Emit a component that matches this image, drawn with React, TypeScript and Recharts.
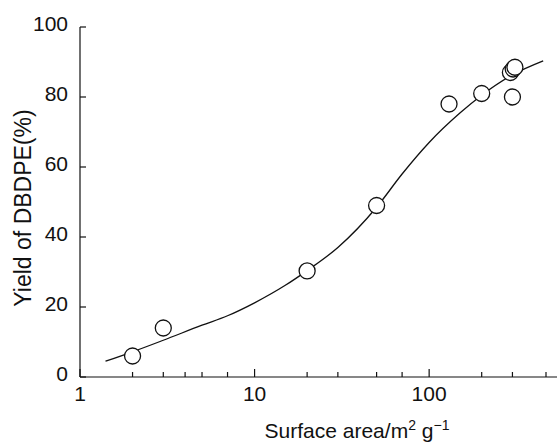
import React from 'react'
import { ComposedChart, Line, Scatter, XAxis, YAxis } from 'recharts'

// measured points (surface area, yield %)
const area = [2, 3, 20, 50, 130, 200, 300, 292, 303, 310]
const yieldPct = [6, 14, 30.3, 49, 78, 81, 80, 87, 88, 88.5]

// fitted curve
const curveArea = [1.4, 2, 3, 5, 7, 10, 15, 20, 30, 50, 70, 100, 150, 200, 300, 450]
const curveYield = [4.5, 7.2, 10.5, 14.8, 17.5, 21.2, 26.2, 30.4, 37, 48.5, 58, 67, 75.4, 80.5, 86.3, 90.3]

const xTicks = [1, 2, 3, 4, 5, 6, 7, 8, 9, 10, 20, 30, 40, 50, 60, 70, 80, 90, 100, 200, 300, 400, 500]
const xLabels = [1, 10, 100]
const yTicks = [0, 20, 40, 60, 80, 100]

const points = area.map((a, i) => ({ area: a, y: yieldPct[i] }))
const curve = curveArea.map((a, i) => ({ area: a, fit: curveYield[i] }))

const FONT = '"Liberation Sans", Arial, Helvetica, sans-serif'

const XTick = (props: any) => {
  const { x, y, payload } = props
  const major = xLabels.includes(payload.value)
  return (
    <g>
      <line x1={x} x2={x} y1={y} y2={y - (major ? 8 : 5)} stroke="#111" strokeWidth={1.2} />
      {major && (
        <text x={x} y={y + 24} textAnchor="middle" fontSize={21} fontFamily={FONT} fill="#111">
          {payload.value}
        </text>
      )}
    </g>
  )
}

const YTick = (props: any) => {
  const { x, y, payload } = props
  return (
    <g>
      <line x1={x} x2={x + 6} y1={y} y2={y} stroke="#111" strokeWidth={1.2} />
      <text x={x - 12} y={y + 4} textAnchor="end" fontSize={21} fontFamily={FONT} fill="#111">
        {payload.value}
      </text>
    </g>
  )
}

const Ring = (props: any) => (
  <circle cx={props.cx} cy={props.cy} r={8} fill="#fff" stroke="#111" strokeWidth={1.3} />
)

export default function App() {
  return (
    <div style={{ position: 'absolute', left: 0, top: 0, background: '#fff' }}>
      <ComposedChart width={558} height={443} margin={{ top: 27, right: 1, bottom: 16, left: 40 }}>
        <XAxis
          dataKey="area"
          type="number"
          scale="log"
          domain={[1, 540]}
          ticks={xTicks}
          tick={<XTick />}
          tickSize={0}
          tickMargin={0}
          height={50}
          allowDataOverflow
          stroke="#111"
          strokeWidth={1.2}
          label={{
            content: () => (
              <text x={357} y={438} textAnchor="middle" fontSize={21} fontFamily={FONT} fill="#111">
                Surface area/m
                <tspan dy={-8} fontSize={14}>2</tspan>
                <tspan dy={8}> g</tspan>
                <tspan dy={-8} fontSize={14}>−1</tspan>
              </text>
            ),
          }}
        />
        <YAxis
          type="number"
          domain={[0, 100]}
          ticks={yTicks}
          tick={<YTick />}
          tickSize={0}
          tickMargin={0}
          width={40}
          stroke="#111"
          strokeWidth={1.2}
          label={{
            content: () => (
              <text
                x={23}
                y={208}
                transform="rotate(-90 23 208)"
                textAnchor="middle"
                dominantBaseline="central"
                fontSize={23}
                fontFamily={FONT}
                fill="#111"
              >
                Yield of DBDPE(%)
              </text>
            ),
          }}
        />
        <Line
          data={curve}
          dataKey="fit"
          type="monotone"
          stroke="#111"
          strokeWidth={1.3}
          dot={false}
          isAnimationActive={false}
        />
        <Scatter data={points} dataKey="y" shape={<Ring />} isAnimationActive={false} />
      </ComposedChart>
    </div>
  )
}
